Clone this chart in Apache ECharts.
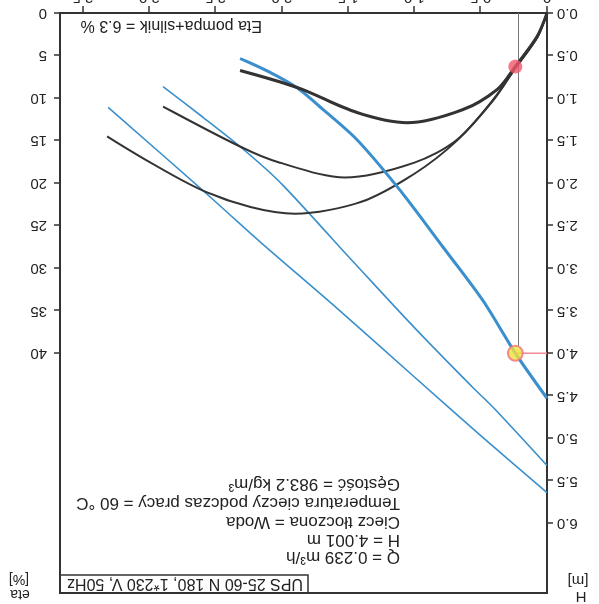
<!DOCTYPE html>
<html>
<head>
<meta charset="utf-8">
<script src="https://cdn.jsdelivr.net/npm/echarts@6/dist/echarts.min.js"></script>
<style>
html,body{margin:0;padding:0;background:#fff;overflow:hidden;}
#c{width:599px;height:604px;transform:rotate(180deg);transform-origin:50% 50%;}
</style>
</head>
<body>
<div id="c"></div>
<script>
// ---- tick labels ----
const qTicks = [0, 0.5, 1.0, 1.5, 2.0, 2.5, 3.0, 3.5];
const hTicks = [0, 0.5, 1.0, 1.5, 2.0, 2.5, 3.0, 3.5, 4.0, 4.5, 5.0, 5.5, 6.0];
const etaTicks = [0, 5, 10, 15, 20, 25, 30, 35, 40];

// ---- pump head curves H(Q) ----
const h1Q = [0, 0.239, 0.475, 0.8, 1.1, 1.433, 1.7, 1.885, 2.1, 2.315];
const h1H = [4.53, 4.0, 3.4, 2.72, 2.1, 1.49, 1.12, 0.88, 0.69, 0.535];
const h2Q = [0, 0.392, 0.581, 1.0, 1.5, 2.014, 2.315, 2.6, 2.896];
const h2H = [5.32, 4.66, 4.37, 3.70, 2.86, 1.99, 1.57, 1.22, 0.865];
const h3Q = [0, 0.5, 1.0, 1.6, 2.187, 2.564, 3.31];
const h3H = [5.64, 4.97, 4.28, 3.45, 2.66, 2.13, 1.11];

// ---- efficiency curves eta(Q) ----
const e1Q = [0, 0.075, 0.239, 0.377, 0.633, 1.056, 1.433, 1.885, 2.315];
const e1E = [0, 2.76, 6.3, 9.0, 11.35, 12.9, 11.7, 8.76, 6.76];
const e2Q = [0, 0.075, 0.239, 0.407, 0.679, 1.0, 1.523, 2.014, 2.315, 2.896];
const e2E = [0, 2.9, 6.5, 10.2, 14.9, 17.6, 19.35, 17.6, 15.7, 11.0];
const e3Q = [0, 0.075, 0.239, 0.407, 0.679, 1.0, 1.4, 1.9, 2.564, 3.318];
const e3E = [0, 2.9, 6.5, 10.3, 15.0, 18.9, 22.2, 23.6, 21.1, 14.5];

// ---- duty point ----
const workQ = [0.239];
const workH = [4.0];
const workEta = [6.3];
const guideQ = [0.215];

// ---- texts ----
const titleText = 'UPS 25-60 N 180, 1*230 V, 50Hz';
const infoLines = ['Q = 0.239 m³/h', 'H = 4.001 m', 'Ciecz tłoczona = Woda', 'Temperatura cieczy podczas pracy = 60 °C', 'Gęstość = 983.2 kg/m³'];
const etaText = 'Eta pompa+silnik = 6.3 %';

const zip = (a, b) => a.map((v, i) => [v, b[i]]);
const FONT = "'Liberation Sans', Arial, Helvetica, sans-serif";
const BLUE = '#3a8fcc';
const BLACK = '#333333';

const chart = echarts.init(document.getElementById('c'), null, {renderer: 'canvas'});

const infoY = [47, 64, 82, 101, 120];
const graphics = [
  {type: 'rect', shape: {x: 291, y: 11, width: 248, height: 18}, style: {fill: 'none', stroke: '#333', lineWidth: 1.5}, z: 100},
  {type: 'text', x: 296, y: 20.5, style: {text: titleText, font: '16px ' + FONT, fill: '#222', verticalAlign: 'middle'}, z: 100},
  {type: 'text', x: 337, y: 579, style: {text: etaText, font: '16px ' + FONT, fill: '#222', verticalAlign: 'middle'}, z: 100},
  {type: 'text', x: 18, y: 8, style: {text: 'H', font: '15px ' + FONT, fill: '#222', align: 'center', verticalAlign: 'middle'}, z: 100},
  {type: 'text', x: 21, y: 24, style: {text: '[m]', font: '15px ' + FONT, fill: '#222', align: 'center', verticalAlign: 'middle'}, z: 100},
  {type: 'text', x: 579, y: 10, style: {text: 'eta', font: '14px ' + FONT, fill: '#222', align: 'center', verticalAlign: 'middle'}, z: 100},
  {type: 'text', x: 580, y: 25, style: {text: '[%]', font: '14px ' + FONT, fill: '#222', align: 'center', verticalAlign: 'middle'}, z: 100}
];
infoLines.forEach((t, i) => {
  graphics.push({type: 'text', x: 199, y: infoY[i], style: {text: t, font: '17px ' + FONT, fill: '#222', verticalAlign: 'middle'}, z: 100});
});

const axisLabelBase = {fontSize: 15, color: '#222', fontFamily: FONT};

const lineSeries = (data, yIdx, color, width, z) => ({
  type: 'line', data: data, yAxisIndex: yIdx, smooth: 0.3,
  showSymbol: false, symbol: 'none', silent: true, z: z,
  lineStyle: {color: color, width: width}
});

chart.setOption({
  animation: false,
  backgroundColor: '#ffffff',
  grid: {left: 52, right: 60, top: 11, bottom: 13, show: true, borderColor: '#333', borderWidth: 2,
    containLabel: false, outerBoundsMode: 'none'},
  xAxis: {
    type: 'value', min: 0, max: 3.673,
    axisLine: {show: true, onZero: false, lineStyle: {color: '#333', width: 2}},
    axisTick: {show: true, customValues: qTicks, length: 7, lineStyle: {color: '#333', width: 1.5}},
    axisLabel: Object.assign({customValues: qTicks, margin: 8, formatter: v => v === 0 ? '0' : v.toFixed(1)}, axisLabelBase),
    splitLine: {show: false}
  },
  yAxis: [
    {
      type: 'value', position: 'left', min: 0, max: 6.82,
      axisLine: {show: true, onZero: false, lineStyle: {color: '#333', width: 2}},
      axisTick: {show: true, customValues: hTicks, length: 6, lineStyle: {color: '#333', width: 1.5}},
      axisLabel: Object.assign({customValues: hTicks, margin: 10, formatter: v => v.toFixed(1)}, axisLabelBase),
      splitLine: {show: false}
    },
    {
      type: 'value', position: 'right', min: 0, max: 68.2,
      axisLine: {show: true, onZero: false, lineStyle: {color: '#333', width: 2}},
      axisTick: {show: true, customValues: etaTicks, length: 6, lineStyle: {color: '#333', width: 1.5}},
      axisLabel: Object.assign({customValues: etaTicks, margin: 13, formatter: v => String(v)}, axisLabelBase),
      splitLine: {show: false}
    }
  ],
  series: [
    lineSeries(zip(h3Q, h3H), 0, BLUE, 1.6, 3),
    lineSeries(zip(h2Q, h2H), 0, BLUE, 1.6, 3),
    lineSeries(zip(h1Q, h1H), 0, BLUE, 3, 4),
    lineSeries(zip(e3Q, e3E), 1, BLACK, 2, 3),
    lineSeries(zip(e2Q, e2E), 1, BLACK, 2, 3),
    lineSeries(zip(e1Q, e1E), 1, BLACK, 3, 4),
    {type: 'line', yAxisIndex: 0, data: [[guideQ[0], 0], [guideQ[0], workH[0] - 0.08]], symbol: 'none', silent: true, z: 2,
      lineStyle: {color: '#777', width: 1}},
    {type: 'line', yAxisIndex: 0, data: [[0, workH[0]], [workQ[0], workH[0]]], symbol: 'none', silent: true, z: 5,
      lineStyle: {color: '#f28a9a', width: 1.5}},
    {type: 'scatter', yAxisIndex: 0, data: zip(workQ, workH), symbol: 'circle', symbolSize: 15, z: 10, silent: true,
      itemStyle: {color: '#f1e13c', borderColor: '#f0707f', borderWidth: 2}},
    {type: 'scatter', yAxisIndex: 1, data: zip(workQ, workEta), symbol: 'circle', symbolSize: 14, z: 10, silent: true,
      itemStyle: {color: '#f2566a'}}
  ],
  graphic: graphics
});
</script>
</body>
</html>
